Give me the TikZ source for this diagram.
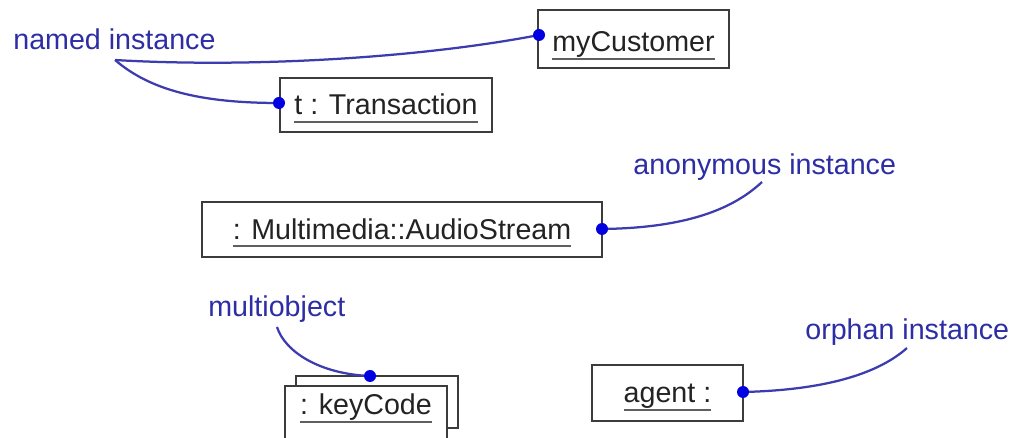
\documentclass[tikz,border=0pt]{standalone}
\usepackage{fontspec}
\setmainfont{Liberation Sans}
\definecolor{lblblue}{RGB}{45,45,165}
\definecolor{lineblue}{RGB}{60,60,175}
\definecolor{dotblue}{RGB}{0,0,225}
\definecolor{boxgray}{RGB}{60,60,60}
\definecolor{boxtext}{RGB}{35,35,35}
\definecolor{ulgray}{RGB}{95,95,95}
\newcommand\lblfont{\fontsize{16.3}{19}\selectfont}
\newcommand\objul[1]{\setbox0=\hbox{#1}\rlap{\color{ulgray}\rule[-0.16cm]{\wd0}{0.04cm}}\box0}
\begin{document}
\begin{tikzpicture}[x=0.02cm,y=-0.02cm,
  obj/.style={draw=boxgray, line width=0.045cm, fill=white, inner sep=0pt, text=boxtext, font=\lblfont, text height=0.4cm, text depth=0cm},
  lbl/.style={text=lblblue, font=\lblfont, inner sep=0pt, anchor=base west},
  dotnode/.style={circle, fill=dotblue, inner sep=0pt, minimum size=0.24cm},
  conn/.style={draw=lineblue, line width=0.045cm}]
\useasboundingbox (0,0) rectangle (1011,438);
\clip (0,0) rectangle (1011,438);
\fill[white] (0,0) rectangle (1011,438);
% object boxes
\node[obj, minimum width=3.82cm, minimum height=1.16cm, text height=0.52cm] (myc) at (633.5,39) {\objul{myCustomer}};
\node[obj, minimum width=4.24cm, minimum height=1.08cm] (trans) at (386,105) {\objul{t : Transaction}};
\node[obj, minimum width=8cm, minimum height=1.1cm] (mm) at (402,229.5) {\objul{: Multimedia::AudioStream}};
\node[obj, minimum width=3.02cm, minimum height=1.12cm] (agent) at (667.5,393) {\objul{agent :}};
\node[obj, minimum width=3.24cm, minimum height=1.04cm] (kcback) at (377,402) {};
\node[obj, minimum width=3.24cm, minimum height=1.08cm, text height=0.3cm, text depth=0.22cm] (kc) at (366,413) {\objul{: keyCode}};
% labels
\node[lbl] (lni) at (13,50) {named instance};
\node[lbl] (lai) at (633,175) {anonymous instance};
\node[lbl] (lmo) at (208,317) {multiobject};
\node[lbl] (loi) at (805,340) {orphan instance};
\coordinate (ni) at (115,60);
\coordinate (ai) at (762,182);
\coordinate (mo) at (277,327);
\coordinate (oi) at (907,348);
% dot positions
\coordinate (d1) at (539,35);
\coordinate (d2) at (279,103);
\coordinate (d3) at (602,229);
\coordinate (d4) at (370,376);
\coordinate (d5) at (743,392);
% connectors
\draw[conn] (ni) .. controls (250,68) and (420,58) .. (d1);
\draw[conn] (ni) .. controls (150,90) and (200,103) .. (d2);
\draw[conn] (d3) .. controls (680,228) and (730,212) .. (ai);
\draw[conn] (mo) .. controls (285,352) and (320,374) .. (d4);
\draw[conn] (d5) .. controls (830,390) and (880,372) .. (oi);
% dots on top
\node[dotnode] (p1) at (d1) {};
\node[dotnode] (p2) at (d2) {};
\node[dotnode] (p3) at (d3) {};
\node[dotnode] (p4) at (d4) {};
\node[dotnode] (p5) at (d5) {};
\end{tikzpicture}
\end{document}
